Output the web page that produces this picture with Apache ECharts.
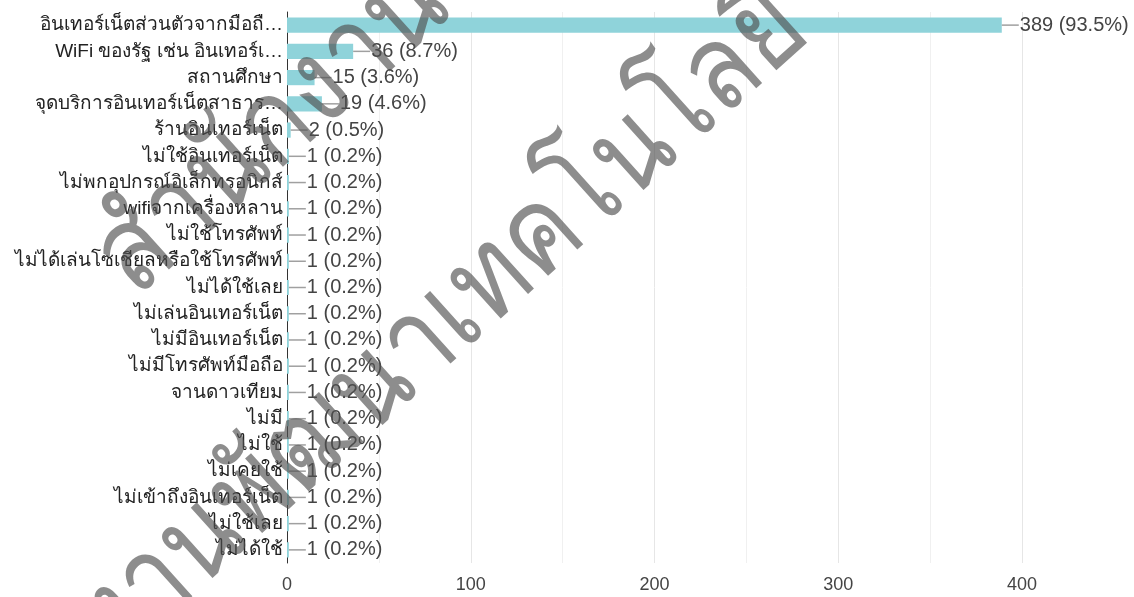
<!DOCTYPE html>
<html><head><meta charset="utf-8">
<script src="https://cdn.jsdelivr.net/npm/echarts@6/dist/echarts.min.js"></script>
<style>html,body{margin:0;padding:0;background:#fff}#c{width:1134px;height:597px}</style>
</head><body><div id="c"></div>
<script>
const categories = [
  'อินเทอร์เน็ตส่วนตัวจากมือถื…',
  'WiFi ของรัฐ เช่น อินเทอร์เ…',
  'สถานศึกษา',
  'จุดบริการอินเทอร์เน็ตสาธาร…',
  'ร้านอินเทอร์เน็ต',
  'ไม่ใช้อินเทอร์เน็ต',
  'ไม่พกอุปกรณ์อิเล็กทรอนิกส์',
  'wifiจากเครื่องหลาน',
  'ไม่ใช้โทรศัพท์',
  'ไม่ได้เล่นโซเชียลหรือใช้โทรศัพท์',
  'ไม่ได้ใช้เลย',
  'ไม่เล่นอินเทอร์เน็ต',
  'ไม่มีอินเทอร์เน็ต',
  'ไม่มีโทรศัพท์มือถือ',
  'จานดาวเทียม',
  'ไม่มี',
  'ไม่ใช้',
  'ไม่เคยใช้',
  'ไม่เข้าถึงอินเทอร์เน็ต',
  'ไม่ใช้เลย',
  'ไม่ได้ใช้'
];
const counts = [389, 36, 15, 19, 2, 1, 1, 1, 1, 1, 1, 1, 1, 1, 1, 1, 1, 1, 1, 1, 1];
const percents = ['93.5%', '8.7%', '3.6%', '4.6%', '0.5%', '0.2%', '0.2%', '0.2%', '0.2%', '0.2%', '0.2%', '0.2%', '0.2%', '0.2%', '0.2%', '0.2%', '0.2%', '0.2%', '0.2%', '0.2%', '0.2%'];
const xTicks = [0, 100, 200, 300, 400];
const watermarkLine1 = 'สำนักงาน';
const watermarkLine2a = 'งานพัฒนา';
const watermarkLine2b = 'เทคโนโลยี';

const FONT = 'Arial, "Liberation Sans", Tahoma, sans-serif';
const ANG = 42 * Math.PI / 180;
const WM_FONT = '300 120px ' + FONT;
const WM_FILL = 'rgba(80,80,80,0.65)';
const chart = echarts.init(document.getElementById('c'));
chart.setOption({
  animation: false,
  grid: { left: 287, right: 112, top: 12, bottom: 34, containLabel: false },
  xAxis: {
    type: 'value', min: xTicks[0], max: xTicks[xTicks.length - 1], interval: 100,
    axisLine: { show: false }, axisTick: { show: false },
    axisLabel: { color: '#444', fontSize: 18, fontFamily: FONT, margin: 13 },
    splitLine: { show: true, lineStyle: { color: '#e6e6e6', width: 1 } },
    minorTick: { show: false, splitNumber: 2 },
    minorSplitLine: { show: true, lineStyle: { color: '#f0f0f0', width: 1 } }
  },
  yAxis: {
    type: 'category', data: categories, inverse: true,
    axisLine: { show: true, lineStyle: { color: '#333', width: 1 } },
    axisTick: { show: false },
    axisLabel: { color: '#222', fontSize: 19, fontFamily: FONT, margin: 4 }
  },
  series: [{
    type: 'bar',
    data: counts,
    barCategoryGap: '42%',
    itemStyle: { color: '#8fd3da' },
    label: {
      show: true, position: 'right', distance: 0,
      formatter: p => '{l|}{v|' + counts[p.dataIndex] + ' (' + percents[p.dataIndex] + ')}',
      rich: {
        l: { width: 17, height: 1.5, backgroundColor: '#a0a0a0' },
        v: { color: '#444', fontSize: 20, fontFamily: FONT, padding: [0, 0, 0, 1] }
      }
    }
  }],
  graphic: [
    { type: 'text', x: 154, y: 319, rotation: ANG, scaleX: 0.85, z: 100, silent: true,
      style: { text: watermarkLine1, font: WM_FONT, fill: WM_FILL, align: 'left', verticalAlign: 'bottom' } },
    { type: 'text', x: 481, y: 372, rotation: ANG, scaleX: 0.85, z: 100, silent: true,
      style: { text: watermarkLine2a, font: WM_FONT, fill: WM_FILL, align: 'right', verticalAlign: 'bottom' } },
    { type: 'text', x: 481, y: 372, rotation: ANG, scaleX: 0.85, z: 100, silent: true,
      style: { text: watermarkLine2b, font: WM_FONT, fill: WM_FILL, align: 'left', verticalAlign: 'bottom' } }
  ]
});
</script></body></html>
